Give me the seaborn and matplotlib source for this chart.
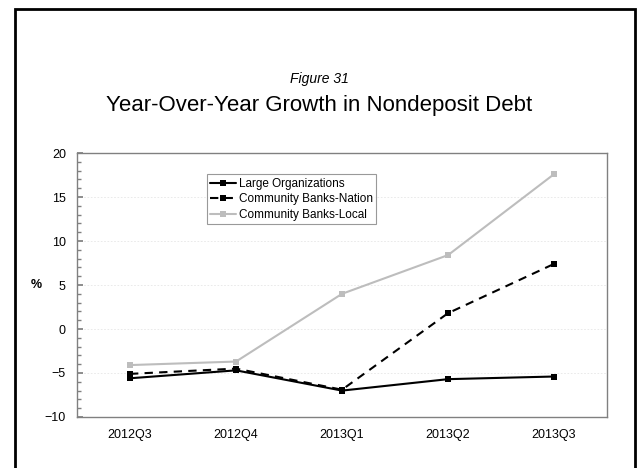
import matplotlib
matplotlib.use("Agg")
import matplotlib.pyplot as plt
from matplotlib.patches import Rectangle
from matplotlib.ticker import MultipleLocator
import pandas as pd
import seaborn as sns

quarters = ["2012Q3", "2012Q4", "2013Q1", "2013Q2", "2013Q3"]
large_orgs = [-5.6, -4.7, -7.0, -5.7, -5.4]
cb_nation = [-5.1, -4.5, -6.9, 1.8, 7.4]
cb_local = [-4.1, -3.7, 4.0, 8.4, 17.6]

series = {
    "Large Organizations": large_orgs,
    "Community Banks-Nation": cb_nation,
    "Community Banks-Local": cb_local,
}
df = pd.concat(
    [pd.DataFrame({"quarter": quarters, "value": v, "series": k}) for k, v in series.items()],
    ignore_index=True,
)

sns.set_theme(style="white")
plt.rcParams["font.family"] = ["Liberation Sans", "DejaVu Sans"]
plt.rcParams["text.color"] = "black"
plt.rcParams["axes.labelcolor"] = "black"
plt.rcParams["xtick.color"] = "black"
plt.rcParams["ytick.color"] = "black"

fig = plt.figure(figsize=(6.39, 4.68), dpi=100)
ax = fig.add_axes([0.1205, 0.109, 0.8295, 0.564])

styles = {
    "Large Organizations": dict(color="black", linestyle="-"),
    "Community Banks-Nation": dict(color="black", linestyle=(0, (4, 3))),
    "Community Banks-Local": dict(color="#bdbdbd", linestyle="-"),
}
for name in series:
    sub = df[df["series"] == name]
    sns.lineplot(
        data=sub, x="quarter", y="value", ax=ax, label=name,
        marker="s", markersize=5, markeredgewidth=0, linewidth=1.5,
        sort=False, **styles[name],
    )

ax.set_xlim(-0.5, 4.5)
ax.set_ylim(-10, 20)
ax.yaxis.set_major_locator(MultipleLocator(5))
ax.yaxis.set_minor_locator(MultipleLocator(1))
ax.grid(axis="y", which="major", color="#e6e6e6", linestyle=(0, (2, 2)), linewidth=0.6)
ax.set_axisbelow(True)

for sp in ax.spines.values():
    sp.set_color("#808080")
    sp.set_linewidth(1.0)

ax.tick_params(axis="y", which="major", direction="in", length=4, color="#808080",
               labelcolor="black", labelsize=9, pad=8, left=True)
ax.tick_params(axis="y", which="minor", direction="in", length=3, color="#808080", left=True)
ax.tick_params(axis="x", which="both", length=0, labelsize=9, pad=9, labelcolor="black")

ax.set_xlabel("")
ax.set_ylabel("%", rotation=0, fontsize=9, fontweight="bold", labelpad=6, va="center",
              color="black")

leg = ax.legend(loc="upper left", bbox_to_anchor=(0.245, 0.92), borderaxespad=0,
                fontsize=8.5, frameon=True, fancybox=False, handlelength=2.2,
                handletextpad=0.2, labelspacing=0.3, borderpad=0.3)
leg.get_frame().set_edgecolor("#808080")
leg.get_frame().set_linewidth(0.8)
for t in leg.get_texts():
    t.set_color("black")

fig.text(0.5, 1 - 79 / 468, "Figure 31", ha="center", va="center",
         fontsize=10, fontstyle="italic", color="black")
fig.text(0.5, 1 - 105 / 468, "Year-Over-Year Growth in Nondeposit Debt",
         ha="center", va="center", fontsize=16, color="black")

fig.patches.append(Rectangle((15 / 639, -0.05), (635 - 15) / 639, 1 - 9 / 468 + 0.05,
                             transform=fig.transFigure, fill=False,
                             edgecolor="black", linewidth=2))

fig.savefig("out.png", dpi=100)
